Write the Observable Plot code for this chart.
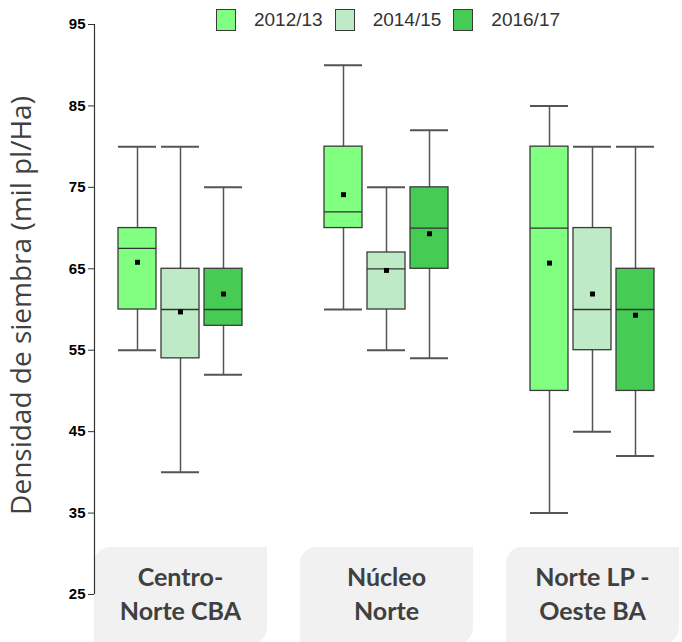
<!DOCTYPE html>
<html>
<head>
<meta charset="utf-8">
<script src="https://cdn.jsdelivr.net/npm/d3@7"></script>
<script src="https://cdn.jsdelivr.net/npm/@observablehq/plot@0.6"></script>
<style>
  html, body { margin: 0; padding: 0; background: #fff; }
  #wrap { position: relative; width: 682px; height: 642px; overflow: hidden; font-family: "Liberation Sans", Arial, sans-serif; }
  #wrap svg { position: absolute; left: 0; top: 0; z-index: 1; }
  .cat { position: absolute; top: 547px; width: 173px; height: 97px; background: #f1f1f1;
         border-radius: 16px 0 16px 0; z-index: 0; text-align: center; box-sizing: border-box;
         padding-top: 12px; font-family: Lato, "Open Sans", sans-serif; font-weight: 700;
         font-size: 25px; line-height: 34px; color: #404040; white-space: pre-line; }
  .legend { position: absolute; top: 9px; left: 94px; width: 588px; z-index: 2; display: flex;
            justify-content: center; font-family: "Liberation Sans", Arial, sans-serif; font-size: 19px; color: #333; }
  .item { display: flex; align-items: center; margin: 0 6px; }
  .sw { width: 20px; height: 22px; border: 1.4px solid #3a3a3a; margin-right: 18px; box-sizing: border-box; }
</style>
</head>
<body>
<div id="wrap"></div>
<script>
// ---- data ----
const groups = ["Centro-\nNorte CBA", "Núcleo\nNorte", "Norte LP -\nOeste BA"];
const seasons = ["2012/13", "2014/15", "2016/17"];
const seasonColors = ["#80ff80", "#bfeac6", "#46cc55"];
// values in order: group 1 (3 seasons), group 2, group 3
const whiskerLow  = [55, 40, 52,   60, 55, 54,   35, 45, 42];
const q1          = [60, 54, 58,   70, 60, 65,   50, 55, 50];
const median      = [67.5, 60, 60, 72, 65, 70,   70, 60, 60];
const q3          = [70, 65, 65,   80, 67, 75,   80, 70, 65];
const whiskerHigh = [80, 80, 75,   90, 75, 82,   85, 80, 80];
const mean        = [65.8, 59.7, 61.9, 74.1, 64.8, 69.3, 65.7, 61.9, 59.3];
const yTicks = [25, 35, 45, 55, 65, 75, 85, 95];
const yTitle = "Densidad de siembra (mil pl/Ha)";

const rows = [];
groups.forEach((g, i) => seasons.forEach((s, j) => {
  const k = i * 3 + j;
  rows.push({group: g, season: s, lo: whiskerLow[k], q1: q1[k], med: median[k], q3: q3[k], hi: whiskerHigh[k], mean: mean[k]});
}));

const plot = Plot.plot({
  width: 682, height: 642,
  marginLeft: 94, marginRight: 0, marginTop: 24, marginBottom: 48,
  style: {background: "transparent", overflow: "visible", fontFamily: "Liberation Sans, Arial, sans-serif"},
  fx: {domain: groups, paddingInner: 0.1594, paddingOuter: 0, align: 0, axis: null, label: null},
  x: {domain: seasons, paddingInner: 0.1136, paddingOuter: 0.534, axis: null, label: null},
  y: {domain: [25, 95], axis: null},
  color: {domain: seasons, range: seasonColors},
  marks: [
    Plot.axisY(yTicks, {tickSize: 6, tickPadding: 3, fontSize: 15, fontWeight: "bold", fill: "#000", stroke: "#333", label: null}),
    Plot.text([{group: groups[0]}], {fx: "group", text: () => yTitle, frameAnchor: "left", textAnchor: "middle",
      lineAnchor: "middle", rotate: -90, dx: -72, dy: -4, fontSize: 28, fontFamily: "Open Sans", fill: "#404040"}),
    Plot.ruleX(rows, {fx: "group", x: "season", y1: "lo", y2: "hi", stroke: "#555", strokeWidth: 1.5}),
    Plot.tickY(rows, {fx: "group", x: "season", y: "lo", stroke: "#555", strokeWidth: 2}),
    Plot.tickY(rows, {fx: "group", x: "season", y: "hi", stroke: "#555", strokeWidth: 2}),
    Plot.barY(rows, {fx: "group", x: "season", y1: "q1", y2: "q3", fill: "season", stroke: "#3a3a3a", strokeWidth: 1.3}),
    Plot.tickY(rows, {fx: "group", x: "season", y: "med", stroke: "#333", strokeWidth: 1.3}),
    Plot.dot(rows, {fx: "group", x: "season", y: "mean", symbol: "square", r: 2.8, fill: "#000", stroke: null})
  ]
});

const wrap = document.getElementById("wrap");
wrap.appendChild(plot);

// y axis line through the library's scales
const yS = plot.scale("y"), fxS = plot.scale("fx");
const x0 = fxS.apply(groups[0]);
d3.select(plot).append("line")
  .attr("x1", x0 + 0.5).attr("x2", x0 + 0.5)
  .attr("y1", yS.apply(95)).attr("y2", yS.apply(25))
  .attr("stroke", "#333").attr("stroke-width", 1.2);

// category labels
groups.forEach(g => {
  const d = document.createElement("div");
  d.className = "cat";
  d.textContent = g;
  d.style.left = (fxS.apply(g) + fxS.bandwidth / 2 - 86.5) + "px";
  wrap.appendChild(d);
});

// legend
const cS = plot.scale("color");
const lg = document.createElement("div");
lg.className = "legend";
cS.domain.forEach((s, i) => {
  const it = document.createElement("div");
  it.className = "item";
  const sw = document.createElement("div");
  sw.className = "sw";
  sw.style.background = cS.range[i];
  const t = document.createElement("span");
  t.textContent = s;
  it.appendChild(sw); it.appendChild(t);
  lg.appendChild(it);
});
wrap.appendChild(lg);
</script>
</body>
</html>
